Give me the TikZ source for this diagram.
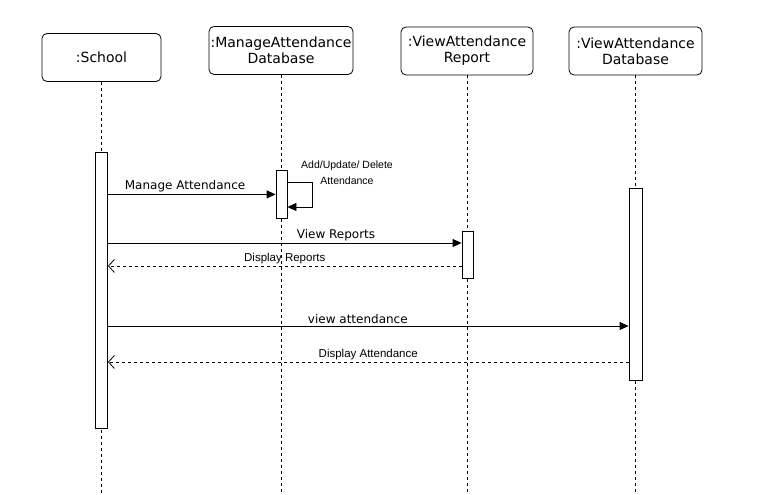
\documentclass[tikz,border=0pt]{standalone}
\usepackage{fontspec}
\setmainfont{DejaVu Sans}
\newfontfamily\arialfont{Liberation Sans}
\usetikzlibrary{arrows.meta}
\tikzset{
obj/.style={draw,rounded corners=5pt,line width=0.8pt,minimum width=#1,minimum height=48pt,align=center,inner sep=0pt,font=\fontsize{14}{16}\selectfont},
act/.style={draw,fill=white,line width=0.8pt,minimum width=11pt,minimum height=#1,inner sep=0pt,anchor=north},
life/.style={dash pattern=on 3pt off 3pt,line width=0.7pt},
call/.style={-{Triangle[length=9pt,width=8pt]},line width=0.8pt},
reply/.style={-{Straight Barb[length=6pt,width=13pt]},dash pattern=on 3pt off 3pt,line width=0.8pt},
lbl/.style={font=\fontsize{12}{14}\selectfont,inner sep=2pt},
albl/.style={font=\arialfont\fontsize{11.5}{14}\selectfont,inner sep=2pt}
}
\begin{document}
\begin{tikzpicture}[x=1pt,y=-1pt]
\useasboundingbox (0,0) rectangle (782,495);
\node[obj=119pt] (school) at (101.5,57.5) {:School};
\node[obj=144pt] (manage) at (281,50.5) {:ManageAttendance\\Database};
\node[obj=132pt] (report) at (467,51) {:ViewAttendance\\Report};
\node[obj=133pt] (viewdb) at (635.5,51) {:ViewAttendance\\Database};
\draw[life](school.south) -- (school.south |- 0,495);
\draw[life](manage.south) -- (manage.south |- 0,495);
\draw[life](report.south) -- (report.south |- 0,495);
\draw[life](viewdb.south) -- (viewdb.south |- 0,495);
\node[act=276pt,minimum width=12pt] (schoolAct) at (101.5,152) {};
\node[act=48pt] (manageAct) at (281.5,170) {};
\node[act=47pt] (reportAct) at (467.5,231) {};
\node[act=192pt,minimum width=13pt] (viewdbAct) at (635.5,188) {};
\coordinate (rowView) at (0,243);
\coordinate (rowShow) at (0,266);
\coordinate (rowAtt) at (0,326);
\coordinate (rowBack) at (0,362);
\draw[call](schoolAct.east |- manageAct) -- (manageAct.west)node[lbl,pos=.46,above](mLbl){Manage Attendance};
\draw[call]([yshift=-12pt]manageAct.north east) -- ++(25,0) -- ++(0,25) -- ([yshift=-37pt]manageAct.north east);
\node[font=\arialfont\fontsize{10.5}{16}\selectfont,align=center,inner sep=0pt] (selfLbl) at (347,173) {Add/Update/ Delete\\Attendance};
\draw[call](schoolAct.east |- rowView) -- (reportAct.west |- rowView)node[lbl,pos=.645,above](vLbl){View Reports};
\draw[reply](reportAct.west |- rowShow) -- (schoolAct.east |- rowShow)node[albl,midway,above](dLbl){Display Reports};
\draw[call](schoolAct.east |- rowAtt) -- (viewdbAct.west |- rowAtt)node[lbl,pos=.48,above](aLbl){view attendance};
\draw[reply](viewdbAct.west |- rowBack) -- (schoolAct.east |- rowBack)node[albl,midway,above](daLbl){Display Attendance};
\end{tikzpicture}
\end{document}
